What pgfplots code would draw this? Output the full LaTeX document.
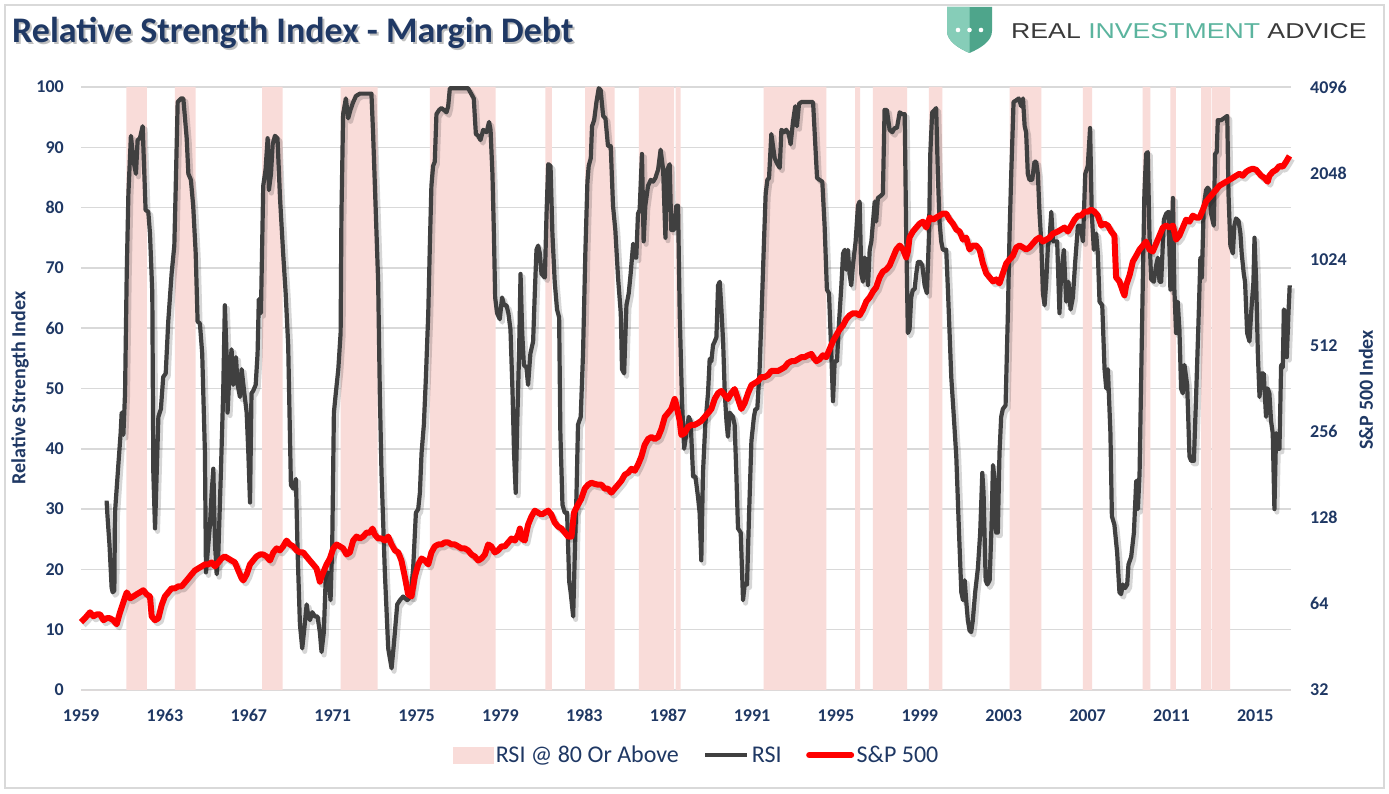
\documentclass[border=0pt]{standalone}
\usepackage{pgfplots}
\pgfplotsset{compat=1.18}
\usepackage{pgfplotstable}
\usepackage{graphicx}
\usepackage{fontspec}
\setmainfont{Carlito}
\newfontfamily\logofont{Liberation Sans}
\definecolor{navy}{HTML}{1F3864}
\definecolor{rsigray}{HTML}{404040}
\definecolor{pinkshade}{HTML}{F9DCD9}
\definecolor{gridc}{HTML}{D9D9D9}
\definecolor{tealL}{HTML}{86CDB8}
\definecolor{tealD}{HTML}{4EA58B}
\definecolor{tealT}{HTML}{5BB49E}
\definecolor{logodark}{HTML}{3A3A3A}

% RSI @ 80 or above: step series (100 inside a period, 0 outside)
\pgfplotstableread[row sep=\\]{
year flag\\
1959.00 0\\ 1961.16 100\\ 1962.14 0\\ 1963.48 100\\ 1964.47 0\\ 1967.64 100\\ 1968.62 0\\
1971.38 100\\ 1973.15 0\\ 1975.64 100\\ 1978.77 0\\ 1981.14 100\\ 1981.46 0\\ 1983.04 100\\
1984.45 0\\ 1985.60 100\\ 1987.28 0\\ 1987.36 100\\ 1987.59 0\\ 1991.55 100\\ 1994.55 0\\
1995.92 100\\ 1996.15 0\\ 1996.76 100\\ 1998.40 0\\ 1999.43 100\\ 2000.08 0\\ 2003.28 100\\
2004.80 0\\ 2006.77 100\\ 2007.22 0\\ 2009.63 100\\ 2009.99 0\\ 2010.95 100\\ 2011.21 0\\
2012.42 100\\ 2012.88 0\\ 2012.92 100\\ 2013.80 0\\ 2016.70 0\\
}\shadedata

\pgfplotstableread[row sep=\\]{
year rsi\\
1960.22 31.4\\ 1960.26 29.0\\ 1960.36 24.0\\ 1960.46 17.0\\ 1960.51 16.2\\ 1960.59 16.5\\
1960.62 29.4\\ 1960.78 37.3\\ 1960.89 42.6\\ 1960.94 46.0\\ 1961.02 42.3\\ 1961.10 49.2\\
1961.18 69.0\\ 1961.26 82.3\\ 1961.38 91.9\\ 1961.51 87.6\\ 1961.62 85.6\\ 1961.70 91.2\\
1961.81 91.5\\ 1961.94 93.5\\ 1962.02 85.6\\ 1962.08 79.6\\ 1962.21 79.3\\ 1962.29 75.7\\
1962.40 65.8\\ 1962.45 36.0\\ 1962.53 26.8\\ 1962.61 36.0\\ 1962.69 45.3\\ 1962.81 46.6\\
1962.92 51.9\\ 1963.04 52.5\\ 1963.16 61.1\\ 1963.32 69.0\\ 1963.45 73.7\\ 1963.51 82.3\\
1963.61 97.5\\ 1963.77 98.1\\ 1963.88 98.1\\ 1963.96 94.8\\ 1964.04 91.5\\ 1964.12 85.6\\
1964.24 84.6\\ 1964.35 80.3\\ 1964.47 72.4\\ 1964.56 61.1\\ 1964.67 60.8\\ 1964.78 55.8\\
1964.91 39.3\\ 1964.96 19.5\\ 1965.04 22.8\\ 1965.15 27.4\\ 1965.23 32.7\\ 1965.31 36.7\\
1965.39 24.1\\ 1965.47 19.2\\ 1965.55 22.8\\ 1965.67 36.0\\ 1965.78 49.2\\ 1965.86 63.8\\
1965.94 55.8\\ 1965.99 46.0\\ 1966.07 51.9\\ 1966.18 56.5\\ 1966.26 50.6\\ 1966.39 55.2\\
1966.47 50.6\\ 1966.58 48.6\\ 1966.66 53.2\\ 1966.79 49.2\\ 1966.90 46.0\\ 1966.98 39.3\\
1967.06 31.1\\ 1967.13 49.2\\ 1967.21 49.6\\ 1967.33 50.6\\ 1967.42 55.8\\ 1967.48 64.8\\
1967.58 62.5\\ 1967.69 83.6\\ 1967.80 86.3\\ 1967.90 91.5\\ 1967.96 82.9\\ 1968.06 85.6\\
1968.14 90.5\\ 1968.25 91.9\\ 1968.37 91.5\\ 1968.49 81.6\\ 1968.64 72.4\\ 1968.76 65.8\\
1968.88 57.2\\ 1969.01 34.0\\ 1969.12 33.4\\ 1969.25 35.0\\ 1969.33 22.8\\ 1969.44 10.9\\
1969.55 6.9\\ 1969.65 10.2\\ 1969.76 14.2\\ 1969.84 12.2\\ 1969.92 11.6\\ 1970.03 12.9\\
1970.15 12.2\\ 1970.28 12.2\\ 1970.39 9.6\\ 1970.47 6.3\\ 1970.58 9.6\\ 1970.68 19.5\\
1970.79 19.5\\ 1970.90 14.9\\ 1970.98 24.1\\ 1971.06 46.0\\ 1971.15 49.2\\ 1971.27 53.2\\
1971.38 59.2\\ 1971.42 79.0\\ 1971.50 95.5\\ 1971.63 98.1\\ 1971.74 94.8\\ 1971.85 96.2\\
1971.98 97.5\\ 1972.11 98.5\\ 1972.30 98.9\\ 1972.54 98.9\\ 1972.85 98.9\\ 1972.93 92.2\\
1973.06 79.0\\ 1973.17 67.7\\ 1973.25 49.2\\ 1973.33 36.0\\ 1973.49 19.5\\ 1973.65 6.9\\
1973.81 3.6\\ 1973.92 7.6\\ 1974.08 14.2\\ 1974.21 14.9\\ 1974.36 15.5\\ 1974.56 14.9\\
1974.71 15.5\\ 1974.84 20.2\\ 1974.97 29.4\\ 1975.08 30.0\\ 1975.16 32.7\\ 1975.24 39.3\\
1975.35 44.0\\ 1975.44 51.2\\ 1975.56 62.5\\ 1975.64 74.4\\ 1975.71 83.6\\ 1975.79 86.9\\
1975.87 87.6\\ 1975.95 95.5\\ 1976.08 96.2\\ 1976.19 96.5\\ 1976.30 96.2\\ 1976.43 95.8\\
1976.51 96.8\\ 1976.59 99.8\\ 1976.75 99.8\\ 1977.07 99.8\\ 1977.46 99.8\\ 1977.62 98.8\\
1977.73 98.1\\ 1977.83 92.2\\ 1977.94 91.9\\ 1978.05 91.2\\ 1978.18 92.9\\ 1978.34 92.5\\
1978.46 94.2\\ 1978.53 92.9\\ 1978.62 85.6\\ 1978.69 75.7\\ 1978.75 65.1\\ 1978.84 62.5\\
1978.97 61.5\\ 1979.08 65.1\\ 1979.18 63.8\\ 1979.29 63.8\\ 1979.38 62.5\\ 1979.48 59.8\\
1979.58 49.2\\ 1979.65 39.3\\ 1979.73 32.7\\ 1979.80 44.0\\ 1979.89 55.8\\ 1979.96 69.0\\
1980.04 59.2\\ 1980.12 53.9\\ 1980.24 53.5\\ 1980.32 50.6\\ 1980.43 55.8\\ 1980.56 57.8\\
1980.64 65.8\\ 1980.72 73.0\\ 1980.80 73.7\\ 1980.88 72.4\\ 1980.96 69.0\\ 1981.12 68.4\\
1981.20 79.0\\ 1981.28 87.2\\ 1981.39 86.9\\ 1981.48 75.7\\ 1981.59 67.7\\ 1981.70 63.1\\
1981.80 61.8\\ 1981.86 42.6\\ 1981.96 30.7\\ 1982.07 29.4\\ 1982.18 29.4\\ 1982.28 18.0\\
1982.35 16.2\\ 1982.47 12.2\\ 1982.55 22.8\\ 1982.63 32.7\\ 1982.70 44.0\\ 1982.83 45.3\\
1982.94 55.8\\ 1983.05 72.4\\ 1983.15 84.3\\ 1983.21 86.9\\ 1983.31 88.2\\ 1983.37 93.5\\
1983.47 94.5\\ 1983.58 97.5\\ 1983.69 99.8\\ 1983.78 99.5\\ 1983.90 95.2\\ 1984.01 94.8\\
1984.13 90.2\\ 1984.26 90.2\\ 1984.37 80.3\\ 1984.48 76.3\\ 1984.61 68.4\\ 1984.74 62.5\\
1984.80 53.2\\ 1984.90 52.5\\ 1985.01 63.8\\ 1985.12 65.8\\ 1985.21 69.0\\ 1985.33 74.0\\
1985.41 71.7\\ 1985.48 71.7\\ 1985.56 79.0\\ 1985.64 79.6\\ 1985.75 88.9\\ 1985.83 74.4\\
1985.91 80.3\\ 1986.04 83.6\\ 1986.17 84.6\\ 1986.28 84.3\\ 1986.39 84.9\\ 1986.52 86.3\\
1986.64 89.6\\ 1986.76 86.3\\ 1986.87 75.0\\ 1986.96 86.3\\ 1987.07 87.2\\ 1987.15 76.3\\
1987.28 76.3\\ 1987.39 80.3\\ 1987.47 80.3\\ 1987.55 62.5\\ 1987.66 47.9\\ 1987.76 40.0\\
1987.87 42.6\\ 1987.98 45.3\\ 1988.07 44.6\\ 1988.19 35.4\\ 1988.30 35.4\\ 1988.42 32.1\\
1988.50 29.4\\ 1988.58 21.5\\ 1988.66 36.0\\ 1988.77 44.0\\ 1988.90 49.2\\ 1988.98 54.9\\
1989.06 54.5\\ 1989.14 57.2\\ 1989.22 57.8\\ 1989.30 58.5\\ 1989.38 67.1\\ 1989.46 67.7\\
1989.54 63.1\\ 1989.62 57.8\\ 1989.70 49.2\\ 1989.78 44.6\\ 1989.85 42.0\\ 1989.93 46.0\\
1990.09 45.3\\ 1990.17 44.0\\ 1990.25 36.0\\ 1990.33 26.8\\ 1990.46 26.1\\ 1990.57 14.9\\
1990.65 17.5\\ 1990.76 17.5\\ 1990.86 29.4\\ 1990.97 41.3\\ 1991.09 45.3\\ 1991.16 46.6\\
1991.25 46.6\\ 1991.36 53.2\\ 1991.48 65.1\\ 1991.57 74.4\\ 1991.65 82.3\\ 1991.73 84.6\\
1991.81 84.9\\ 1991.92 92.2\\ 1992.00 90.2\\ 1992.08 88.2\\ 1992.21 87.2\\ 1992.32 86.6\\
1992.40 92.9\\ 1992.52 92.5\\ 1992.63 92.9\\ 1992.75 92.2\\ 1992.84 90.5\\ 1992.95 94.2\\
1993.06 96.8\\ 1993.14 93.5\\ 1993.24 97.2\\ 1993.35 97.5\\ 1993.59 97.5\\ 1993.91 97.5\\
1993.99 92.2\\ 1994.10 84.9\\ 1994.22 84.6\\ 1994.35 84.3\\ 1994.46 77.0\\ 1994.57 66.4\\
1994.67 65.8\\ 1994.78 55.8\\ 1994.86 47.9\\ 1994.94 54.5\\ 1995.05 54.5\\ 1995.15 61.1\\
1995.26 67.1\\ 1995.34 72.4\\ 1995.42 73.0\\ 1995.49 69.7\\ 1995.57 73.0\\ 1995.65 69.0\\
1995.73 67.1\\ 1995.81 70.4\\ 1995.94 74.4\\ 1996.05 80.3\\ 1996.13 81.0\\ 1996.21 69.0\\
1996.29 67.7\\ 1996.37 71.7\\ 1996.45 71.0\\ 1996.53 67.1\\ 1996.61 73.0\\ 1996.69 74.4\\
1996.77 77.7\\ 1996.85 81.0\\ 1996.92 77.7\\ 1997.00 81.6\\ 1997.12 81.9\\ 1997.24 82.3\\
1997.32 96.2\\ 1997.43 96.2\\ 1997.56 92.9\\ 1997.69 92.5\\ 1997.80 93.2\\ 1997.91 93.2\\
1998.04 95.8\\ 1998.16 95.5\\ 1998.28 95.5\\ 1998.35 75.7\\ 1998.43 59.2\\ 1998.51 59.8\\
1998.59 65.1\\ 1998.67 66.4\\ 1998.75 66.4\\ 1998.83 69.0\\ 1998.91 71.0\\ 1999.02 71.0\\
1999.12 70.4\\ 1999.23 67.1\\ 1999.34 65.8\\ 1999.44 75.7\\ 1999.50 88.9\\ 1999.59 95.8\\
1999.71 96.2\\ 1999.78 96.5\\ 1999.86 85.6\\ 1999.94 77.7\\ 2000.02 74.4\\ 2000.10 73.0\\
2000.26 73.0\\ 2000.34 66.4\\ 2000.42 59.2\\ 2000.50 51.9\\ 2000.61 46.0\\ 2000.74 38.7\\
2000.87 26.1\\ 2000.98 16.2\\ 2001.06 14.9\\ 2001.14 18.2\\ 2001.21 14.9\\ 2001.29 11.6\\
2001.37 9.9\\ 2001.45 9.6\\ 2001.53 11.6\\ 2001.64 16.2\\ 2001.77 20.2\\ 2001.88 26.1\\
2001.98 36.0\\ 2002.04 32.7\\ 2002.14 18.2\\ 2002.22 17.5\\ 2002.33 18.2\\ 2002.41 26.1\\
2002.49 37.3\\ 2002.57 34.7\\ 2002.64 26.1\\ 2002.72 26.1\\ 2002.80 39.3\\ 2002.88 45.3\\
2002.96 46.6\\ 2003.09 47.2\\ 2003.20 62.5\\ 2003.28 75.7\\ 2003.36 85.6\\ 2003.47 97.5\\
2003.60 97.8\\ 2003.72 98.1\\ 2003.84 96.8\\ 2003.92 98.1\\ 2004.00 93.5\\ 2004.07 92.5\\
2004.15 85.6\\ 2004.23 84.6\\ 2004.36 84.6\\ 2004.47 87.6\\ 2004.55 87.6\\ 2004.63 85.6\\
2004.71 79.0\\ 2004.79 74.4\\ 2004.87 65.8\\ 2004.95 63.8\\ 2005.03 67.7\\ 2005.11 73.7\\
2005.19 75.0\\ 2005.27 79.3\\ 2005.35 74.4\\ 2005.45 74.4\\ 2005.55 74.4\\ 2005.66 62.5\\
2005.74 69.0\\ 2005.87 73.0\\ 2005.98 64.4\\ 2006.09 67.7\\ 2006.19 63.1\\ 2006.30 65.1\\
2006.41 71.0\\ 2006.54 77.0\\ 2006.66 77.0\\ 2006.78 74.4\\ 2006.89 85.6\\ 2007.01 86.9\\
2007.12 93.2\\ 2007.20 79.0\\ 2007.30 73.0\\ 2007.41 75.7\\ 2007.49 72.4\\ 2007.57 64.4\\
2007.70 63.8\\ 2007.81 53.2\\ 2007.89 50.0\\ 2007.97 53.2\\ 2008.09 42.6\\ 2008.16 28.8\\
2008.28 27.4\\ 2008.41 22.8\\ 2008.52 16.2\\ 2008.60 15.9\\ 2008.68 17.5\\ 2008.79 16.9\\
2008.89 17.5\\ 2008.95 20.8\\ 2009.08 22.1\\ 2009.21 26.1\\ 2009.32 34.7\\ 2009.40 30.0\\
2009.48 36.0\\ 2009.56 52.5\\ 2009.64 69.0\\ 2009.71 82.3\\ 2009.79 88.9\\ 2009.87 89.2\\
2009.95 75.7\\ 2010.03 68.1\\ 2010.16 67.7\\ 2010.27 70.4\\ 2010.35 71.7\\ 2010.43 67.7\\
2010.51 67.7\\ 2010.64 78.0\\ 2010.75 79.0\\ 2010.86 79.3\\ 2010.95 66.4\\ 2011.07 81.6\\
2011.14 66.4\\ 2011.22 59.2\\ 2011.30 64.4\\ 2011.38 59.8\\ 2011.46 50.0\\ 2011.54 49.2\\
2011.62 53.9\\ 2011.75 50.6\\ 2011.86 38.7\\ 2011.94 38.0\\ 2012.07 38.0\\ 2012.18 49.2\\
2012.29 61.1\\ 2012.38 71.7\\ 2012.45 68.4\\ 2012.54 80.3\\ 2012.65 82.9\\ 2012.73 83.3\\
2012.81 82.9\\ 2012.89 79.0\\ 2013.02 77.0\\ 2013.08 88.9\\ 2013.16 89.2\\ 2013.21 94.5\\
2013.37 94.5\\ 2013.50 94.8\\ 2013.66 95.2\\ 2013.72 82.3\\ 2013.81 73.7\\ 2013.93 72.4\\
2014.00 77.0\\ 2014.08 78.2\\ 2014.20 77.8\\ 2014.29 75.7\\ 2014.35 72.4\\ 2014.45 69.0\\
2014.51 67.7\\ 2014.61 59.2\\ 2014.72 57.8\\ 2014.80 62.5\\ 2014.91 67.7\\ 2014.96 75.0\\
2015.04 67.7\\ 2015.12 55.8\\ 2015.20 48.6\\ 2015.28 52.5\\ 2015.40 52.5\\ 2015.51 45.3\\
2015.59 50.0\\ 2015.67 49.2\\ 2015.75 44.6\\ 2015.83 42.6\\ 2015.91 30.0\\ 2015.99 42.6\\
2016.07 40.0\\ 2016.15 40.0\\ 2016.23 53.9\\ 2016.31 53.5\\ 2016.36 63.1\\ 2016.44 62.5\\
2016.50 55.2\\ 2016.58 62.5\\ 2016.64 67.1\\
}\rsidata

\pgfplotstableread[row sep=\\]{
year spx\\
1959.00 55.2\\ 1959.19 57.0\\ 1959.43 59.8\\ 1959.59 57.9\\ 1959.75 58.8\\ 1959.91 58.8\\
1960.07 56.1\\ 1960.22 57.0\\ 1960.38 57.0\\ 1960.54 56.1\\ 1960.70 54.3\\ 1960.86 59.8\\
1961.02 64.8\\ 1961.18 70.2\\ 1961.34 66.9\\ 1961.49 67.9\\ 1961.65 69.1\\ 1961.81 70.2\\
1961.97 71.4\\ 1962.13 69.1\\ 1962.29 67.9\\ 1962.37 57.9\\ 1962.53 56.1\\ 1962.69 57.0\\
1962.85 63.5\\ 1963.00 67.9\\ 1963.16 70.2\\ 1963.32 72.5\\ 1963.48 72.5\\ 1963.64 73.7\\
1963.80 73.7\\ 1963.96 76.1\\ 1964.12 78.6\\ 1964.27 81.1\\ 1964.43 83.7\\ 1964.59 85.1\\
1964.75 86.5\\ 1964.91 87.9\\ 1965.07 87.9\\ 1965.23 89.3\\ 1965.39 86.5\\ 1965.55 89.3\\
1965.70 92.2\\ 1965.86 93.7\\ 1966.02 92.2\\ 1966.18 90.7\\ 1966.34 89.3\\ 1966.50 83.7\\
1966.66 78.6\\ 1966.74 77.3\\ 1966.90 81.1\\ 1967.06 87.9\\ 1967.21 90.7\\ 1967.37 93.7\\
1967.53 95.2\\ 1967.69 95.2\\ 1967.85 93.7\\ 1968.01 90.7\\ 1968.17 96.8\\ 1968.33 100.0\\
1968.48 98.4\\ 1968.64 101.6\\ 1968.80 106.5\\ 1968.96 103.2\\ 1969.12 101.6\\ 1969.28 98.4\\
1969.44 96.8\\ 1969.60 96.8\\ 1969.75 93.7\\ 1969.91 90.7\\ 1970.07 87.9\\ 1970.23 85.1\\
1970.39 76.5\\ 1970.55 82.4\\ 1970.71 87.9\\ 1970.87 92.2\\ 1971.03 100.0\\ 1971.19 103.2\\
1971.35 101.6\\ 1971.50 100.0\\ 1971.66 95.2\\ 1971.82 96.8\\ 1971.98 106.5\\ 1972.14 110.0\\
1972.30 108.3\\ 1972.46 110.0\\ 1972.62 113.6\\ 1972.78 113.6\\ 1972.90 117.3\\ 1973.01 111.8\\
1973.17 108.3\\ 1973.33 108.3\\ 1973.49 106.5\\ 1973.65 110.0\\ 1973.81 103.2\\ 1973.97 98.4\\
1974.13 96.8\\ 1974.28 90.7\\ 1974.44 79.8\\ 1974.60 69.1\\ 1974.76 67.9\\ 1974.92 79.8\\
1975.08 87.9\\ 1975.24 92.2\\ 1975.40 90.7\\ 1975.56 87.9\\ 1975.71 96.8\\ 1975.87 101.6\\
1976.03 103.2\\ 1976.19 103.2\\ 1976.35 104.9\\ 1976.51 104.9\\ 1976.67 103.2\\ 1976.83 103.2\\
1976.99 101.6\\ 1977.14 100.0\\ 1977.30 100.0\\ 1977.46 98.4\\ 1977.62 95.2\\ 1977.78 93.7\\
1977.94 90.7\\ 1978.10 92.2\\ 1978.26 95.2\\ 1978.42 103.2\\ 1978.57 101.6\\ 1978.73 96.8\\
1978.89 98.4\\ 1979.05 101.6\\ 1979.21 101.6\\ 1979.37 104.9\\ 1979.53 108.3\\ 1979.69 106.5\\
1979.85 111.8\\ 1979.93 117.3\\ 1980.00 108.3\\ 1980.16 106.5\\ 1980.32 121.0\\ 1980.48 129.2\\
1980.64 135.5\\ 1980.80 133.3\\ 1980.96 131.2\\ 1981.12 133.3\\ 1981.28 135.5\\ 1981.43 131.2\\
1981.59 123.1\\ 1981.75 119.2\\ 1981.91 117.3\\ 1982.07 113.6\\ 1982.23 110.0\\ 1982.39 110.0\\
1982.51 133.3\\ 1982.70 142.2\\ 1982.86 149.2\\ 1983.02 161.7\\ 1983.18 166.9\\ 1983.34 169.6\\
1983.50 168.0\\ 1983.66 166.9\\ 1983.82 166.9\\ 1983.98 161.7\\ 1984.13 161.7\\ 1984.29 156.6\\
1984.45 161.7\\ 1984.61 166.9\\ 1984.77 172.4\\ 1984.93 180.9\\ 1985.09 183.8\\ 1985.25 189.8\\
1985.41 186.8\\ 1985.56 196.0\\ 1985.72 209.0\\ 1985.88 230.0\\ 1986.04 241.0\\ 1986.20 245.0\\
1986.36 241.0\\ 1986.52 245.0\\ 1986.68 261.6\\ 1986.84 288.0\\ 1986.99 297.0\\ 1987.15 307.0\\
1987.31 332.8\\ 1987.39 317.0\\ 1987.55 279.0\\ 1987.63 249.0\\ 1987.79 253.0\\ 1987.95 266.0\\
1988.11 270.0\\ 1988.26 270.0\\ 1988.42 274.0\\ 1988.58 279.0\\ 1988.74 288.0\\ 1988.90 297.0\\
1989.06 307.0\\ 1989.22 332.8\\ 1989.38 349.0\\ 1989.54 355.0\\ 1989.70 343.0\\ 1989.85 332.8\\
1990.01 349.0\\ 1990.17 360.5\\ 1990.33 332.8\\ 1990.49 307.0\\ 1990.65 322.0\\ 1990.81 349.0\\
1990.97 372.0\\ 1991.13 378.0\\ 1991.28 384.0\\ 1991.44 397.0\\ 1991.60 397.0\\ 1991.76 403.0\\
1991.92 417.0\\ 1992.08 417.0\\ 1992.24 417.0\\ 1992.40 423.0\\ 1992.56 430.0\\ 1992.71 444.0\\
1992.87 451.0\\ 1993.03 451.0\\ 1993.19 458.0\\ 1993.35 466.0\\ 1993.51 466.0\\ 1993.67 473.0\\
1993.83 478.0\\ 1993.95 462.0\\ 1994.07 451.0\\ 1994.22 458.0\\ 1994.38 473.0\\ 1994.54 466.0\\
1994.70 497.0\\ 1994.86 530.0\\ 1995.02 556.0\\ 1995.18 583.0\\ 1995.34 602.0\\ 1995.49 632.0\\
1995.65 652.0\\ 1995.81 663.0\\ 1995.97 663.0\\ 1996.13 652.0\\ 1996.29 684.0\\ 1996.45 730.0\\
1996.61 754.0\\ 1996.77 791.0\\ 1996.92 817.0\\ 1997.08 885.0\\ 1997.24 928.0\\ 1997.40 943.0\\
1997.56 974.0\\ 1997.72 1039\\ 1997.88 1108\\ 1998.04 1144\\ 1998.20 1108\\ 1998.35 1039\\
1998.43 1090\\ 1998.51 1220\\ 1998.67 1280\\ 1998.83 1322\\ 1998.99 1364\\ 1999.15 1386\\
1999.31 1322\\ 1999.47 1432\\ 1999.63 1409\\ 1999.78 1432\\ 1999.94 1455\\ 2000.10 1479\\
2000.26 1479\\ 2000.42 1409\\ 2000.58 1364\\ 2000.74 1301\\ 2000.90 1280\\ 2001.06 1199\\
2001.21 1220\\ 2001.37 1108\\ 2001.53 1144\\ 2001.69 1144\\ 2001.85 1108\\ 2002.01 990\\
2002.17 914\\ 2002.33 885\\ 2002.49 857\\ 2002.64 871\\ 2002.80 843\\ 2002.96 914\\
2003.12 990\\ 2003.28 1023\\ 2003.44 1054\\ 2003.60 1126\\ 2003.76 1144\\ 2003.92 1126\\
2004.07 1108\\ 2004.23 1126\\ 2004.39 1162\\ 2004.55 1199\\ 2004.71 1220\\ 2004.87 1181\\
2005.03 1199\\ 2005.19 1220\\ 2005.35 1259\\ 2005.58 1280\\ 2005.74 1301\\ 2005.90 1322\\
2006.06 1280\\ 2006.22 1343\\ 2006.38 1409\\ 2006.54 1455\\ 2006.70 1455\\ 2006.86 1502\\
2007.01 1502\\ 2007.17 1526\\ 2007.33 1502\\ 2007.49 1455\\ 2007.65 1343\\ 2007.81 1364\\
2007.97 1343\\ 2008.13 1280\\ 2008.28 1239\\ 2008.36 885\\ 2008.52 857\\ 2008.68 791\\
2008.76 766\\ 2008.84 830\\ 2009.00 899\\ 2009.16 1006\\ 2009.32 1054\\ 2009.48 1108\\
2009.64 1144\\ 2009.79 1181\\ 2009.95 1108\\ 2010.11 1090\\ 2010.27 1162\\ 2010.43 1239\\
2010.59 1322\\ 2010.75 1343\\ 2010.91 1322\\ 2011.07 1343\\ 2011.22 1199\\ 2011.38 1239\\
2011.54 1322\\ 2011.70 1409\\ 2011.86 1386\\ 2012.02 1455\\ 2012.18 1432\\ 2012.34 1432\\
2012.50 1526\\ 2012.65 1628\\ 2012.81 1681\\ 2012.97 1735\\ 2013.13 1792\\ 2013.29 1851\\
2013.45 1881\\ 2013.61 1911\\ 2013.77 1942\\ 2013.93 1973\\ 2014.08 2005\\ 2014.24 2037\\
2014.40 2005\\ 2014.56 2070\\ 2014.72 2103\\ 2014.88 2123\\ 2015.04 2103\\ 2015.20 2037\\
2015.28 2005\\ 2015.43 1973\\ 2015.59 1911\\ 2015.67 2005\\ 2015.83 2070\\ 2015.99 2103\\
2016.15 2171\\ 2016.31 2157\\ 2016.46 2241\\ 2016.63 2352\\
}\spxdata

\pgfplotsset{
  base/.style={
    at={(81pt,103pt)}, anchor=south west, scale only axis,
    width=1210pt, height=603pt,
    xmin=1959, xmax=2016.7,
    clip=false,
    major tick length=0pt, minor tick num=0,
    axis line style={draw=none},
    tick label style={font=\fontsize{18}{21}\selectfont\bfseries, text=navy},
  }
}

\begin{document}
\begin{tikzpicture}[x=1pt,y=1pt]
\useasboundingbox (0,0) rectangle (1389,793);
\fill[white] (0,0) rectangle (1389,793);
\draw[gridc, line width=2pt] (5,5) rectangle (1384,788);

% title with soft shadow
\node[anchor=base west, inner sep=0pt, text=black, opacity=0.25, font=\fontsize{36}{40}\selectfont\bfseries] at (14,748) {Relative Strength Index - Margin Debt};
\node[anchor=base west, inner sep=0pt, text=navy, font=\fontsize{36}{40}\selectfont\bfseries] at (12,750) {Relative Strength Index - Margin Debt};

% logo
\fill[tealD] (947,786) -- (992,786) -- (992,762) .. controls (992,752) and (981,745) .. (969.5,740) .. controls (958,745) and (947,752) .. (947,762) -- cycle;
\begin{scope}
\clip (940,735) rectangle (969.5,790);
\fill[tealL] (947,786) -- (992,786) -- (992,762) .. controls (992,752) and (981,745) .. (969.5,740) .. controls (958,745) and (947,752) .. (947,762) -- cycle;
\end{scope}
\fill[white] (958,763) circle (2.3) (969.5,763) circle (2.3) (981,763) circle (2.3);
\node[anchor=base west, inner sep=0pt] at (1011,754) {\scalebox{1.24}[1]{\logofont\fontsize{21.5}{24}\selectfont\textcolor{logodark}{REAL} \textcolor{tealT}{INVESTMENT} \textcolor{logodark}{ADVICE}}};

% axis labels
\node[rotate=90, text=navy, font=\fontsize{20}{24}\selectfont\bfseries] at (20,405) {Relative Strength Index};
\node[rotate=90, text=navy, font=\fontsize{20}{24}\selectfont\bfseries] at (1366,403) {S\&P 500 Index};

\begin{axis}[base,
  ymin=0, ymax=100,
  axis x line*=bottom, axis y line*=left,
  xtick={1959,1963,1967,1971,1975,1979,1983,1987,1991,1995,1999,2003,2007,2011,2015},
  xticklabels={1959,1963,1967,1971,1975,1979,1983,1987,1991,1995,1999,2003,2007,2011,2015},
  ytick={0,10,20,30,40,50,60,70,80,90,100},
  yticklabels={0,10,20,30,40,50,60,70,80,90,100},
  ymajorgrids, grid style={gridc, line width=1.5pt},
  xticklabel style={anchor=north, inner sep=0pt, yshift=-19pt},
  yticklabel style={anchor=east, inner sep=0pt, xshift=-17pt},
]
\addplot[const plot mark left, fill=pinkshade, draw=none] table[x=year, y=flag] {\shadedata} \closedcycle;
\addplot[black, opacity=0.16, line width=5pt, line join=round, xshift=2.5pt, yshift=-3pt] table[x=year, y=rsi] {\rsidata};
\addplot[rsigray, line width=4.2pt, line join=round] table[x=year, y=rsi] {\rsidata};
\end{axis}

\begin{axis}[base,
  ymode=log, log basis y=2, ymin=32, ymax=4096,
  axis y line*=right, axis x line=none,
  ytick={32,64,128,256,512,1024,2048,4096},
  yticklabels={32,64,128,256,512,1024,2048,4096},
  yticklabel style={anchor=west, inner sep=0pt, xshift=19pt},
  legend style={at={(0.509,-0.108)}, anchor=center, draw=none, fill=none,
    font=\fontsize{24}{28}\selectfont, text=navy, inner sep=0pt,
    nodes={inner sep=2.5pt},
    /tikz/every even column/.append style={column sep=22pt}},
  legend columns=3,
]
\addlegendimage{legend image code/.code={\fill[pinkshade] (0pt,-8pt) rectangle (40pt,8pt);}}
\addlegendentry{RSI @ 80 Or Above}
\addlegendimage{legend image code/.code={\draw[rsigray, line width=4pt] (0pt,0pt) -- (42pt,0pt);}}
\addlegendentry{RSI}
\addplot[black, opacity=0.16, line width=6pt, line join=round, xshift=2.5pt, yshift=-3pt, forget plot] table[x=year, y=spx] {\spxdata};
\addplot[red, line width=6pt, line join=round, legend image code/.code={\draw[red, line width=6pt, line cap=round] (0pt,0pt) -- (42pt,0pt);}] table[x=year, y=spx] {\spxdata};
\addlegendentry{S\&P 500}
\end{axis}
\end{tikzpicture}
\end{document}
